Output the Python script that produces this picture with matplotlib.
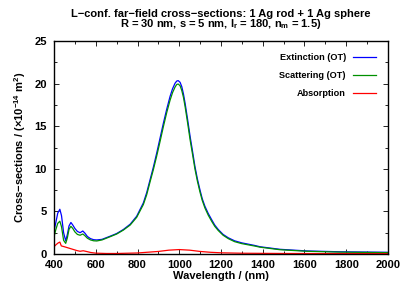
import matplotlib
matplotlib.use('Agg')
import matplotlib.pyplot as plt
from matplotlib.ticker import MultipleLocator

plt.rcParams['font.family'] = ['Liberation Sans', 'DejaVu Sans']
plt.rcParams['font.weight'] = 'bold'
plt.rcParams['mathtext.default'] = 'regular'

# wavelength grid (nm) and cross-sections (x1e-14 m^2)
wl = [400, 408, 418, 428, 436, 446, 456, 464, 472, 481, 490, 500, 512, 525,
      538, 548, 560, 575, 590, 605, 630, 668, 700, 732, 765, 796, 828, 844,
      860, 876, 892, 908, 924, 940, 956, 968, 980, 988, 995, 1004, 1012, 1020,
      1028, 1040, 1052, 1064, 1075, 1087, 1099, 1110, 1123, 1139, 1155, 1170,
      1187, 1210, 1235, 1265, 1299, 1362, 1387, 1483, 1611, 1770, 2000]
ext = [2.7, 3.6, 4.8, 5.25, 4.5, 2.5, 1.55, 2.3, 3.3, 3.7, 3.4, 3.0, 2.65, 2.5,
       2.7, 2.45, 2.05, 1.8, 1.68, 1.65, 1.72, 2.08, 2.4, 2.87, 3.5, 4.43, 6.0, 7.2,
       8.7, 10.2, 11.85, 13.6, 15.36, 17.0, 18.5, 19.4, 20.05, 20.3, 20.35, 20.15, 19.65, 18.8,
       17.7, 15.8, 13.8, 12.0, 10.3, 8.8, 7.55, 6.5, 5.6, 4.75, 4.04, 3.4,
       2.87, 2.3, 1.9, 1.55, 1.31, 1.0, 0.85, 0.55, 0.36, 0.26, 0.2]
sca = [2.0, 2.8, 3.6, 3.85, 3.2, 1.6, 1.25, 1.9, 2.9, 3.25, 3.0, 2.6, 2.3, 2.2,
       2.35, 2.15, 1.85, 1.65, 1.55, 1.53, 1.65, 2.02, 2.34, 2.8, 3.4, 4.3, 5.8, 6.95,
       8.45, 9.9, 11.5, 13.2, 14.95, 16.6, 18.05, 18.95, 19.6, 19.9, 19.95, 19.75, 19.2, 18.4,
       17.3, 15.4, 13.4, 11.65, 10.0, 8.55, 7.3, 6.3, 5.4, 4.55, 3.85, 3.25,
       2.75, 2.2, 1.8, 1.45, 1.22, 0.93, 0.8, 0.5, 0.32, 0.22, 0.16]

wl_abs = [400, 410, 420, 428, 435, 450, 470, 490, 510, 525, 540, 555, 575, 600,
          650, 700, 800, 900, 950, 1000, 1050, 1100, 1150, 1200, 1300, 1500,
          1700, 2000]
absorb = [0.85, 1.1, 1.3, 1.4, 0.95, 0.85, 0.7, 0.55, 0.4, 0.32, 0.38, 0.3, 0.18, 0.1,
          0.06, 0.06, 0.12, 0.3, 0.45, 0.52, 0.45, 0.3, 0.2, 0.14, 0.09, 0.06,
          0.05, 0.04]

fig = plt.figure(figsize=(4.01, 2.88), dpi=100)
ax = fig.add_axes([54 / 401, 1 - 254 / 288, 334 / 401, 213 / 288])

ax.plot(wl, ext, color='#0000ff', linewidth=0.9, label='Extinction (OT)')
ax.plot(wl, sca, color='#009000', linewidth=0.9, label='Scattering (OT)')
ax.plot(wl_abs, absorb, color='#ff0000', linewidth=0.9, label='Absorption')

ax.set_xlim(400, 2000)
ax.set_ylim(0, 25)
ax.xaxis.set_major_locator(MultipleLocator(200))
ax.xaxis.set_minor_locator(MultipleLocator(100))
ax.yaxis.set_major_locator(MultipleLocator(5))
ax.yaxis.set_minor_locator(MultipleLocator(2.5))
ax.tick_params(which='both', direction='in', top=True, right=True,
               labelsize=8, width=0.6)
ax.tick_params(axis='x', pad=4)
ax.tick_params(axis='y', pad=5)
ax.tick_params(which='major', length=3.5)
ax.tick_params(which='minor', length=2)
for sp in ax.spines.values():
    sp.set_linewidth(1.0)

ax.set_xlabel('Wavelength / (nm)', fontsize=8, fontweight='bold', labelpad=1)
ax.set_ylabel('Cross\u2212sections / (\u00d710$^{\u221214}$ m$^{2}$)',
              fontsize=8, fontweight='bold', labelpad=5)
ax.set_title('L\u2212conf. far\u2212field cross\u2212sections: 1 Ag rod + 1 Ag sphere\n'
             'R = 30 nm, s = 5 nm, l$_{r}$ = 180, n$_{m}$ = 1.5)',
             fontsize=8, fontweight='bold', linespacing=0.8, pad=10)

leg = ax.legend(loc='upper right', frameon=False, fontsize=6.6, markerfirst=False,
                handlelength=2.5, labelspacing=1.0, borderaxespad=0.9,
                handletextpad=0.8)
for t in leg.get_texts():
    t.set_fontweight('bold')

fig.savefig('out.png', dpi=100)
